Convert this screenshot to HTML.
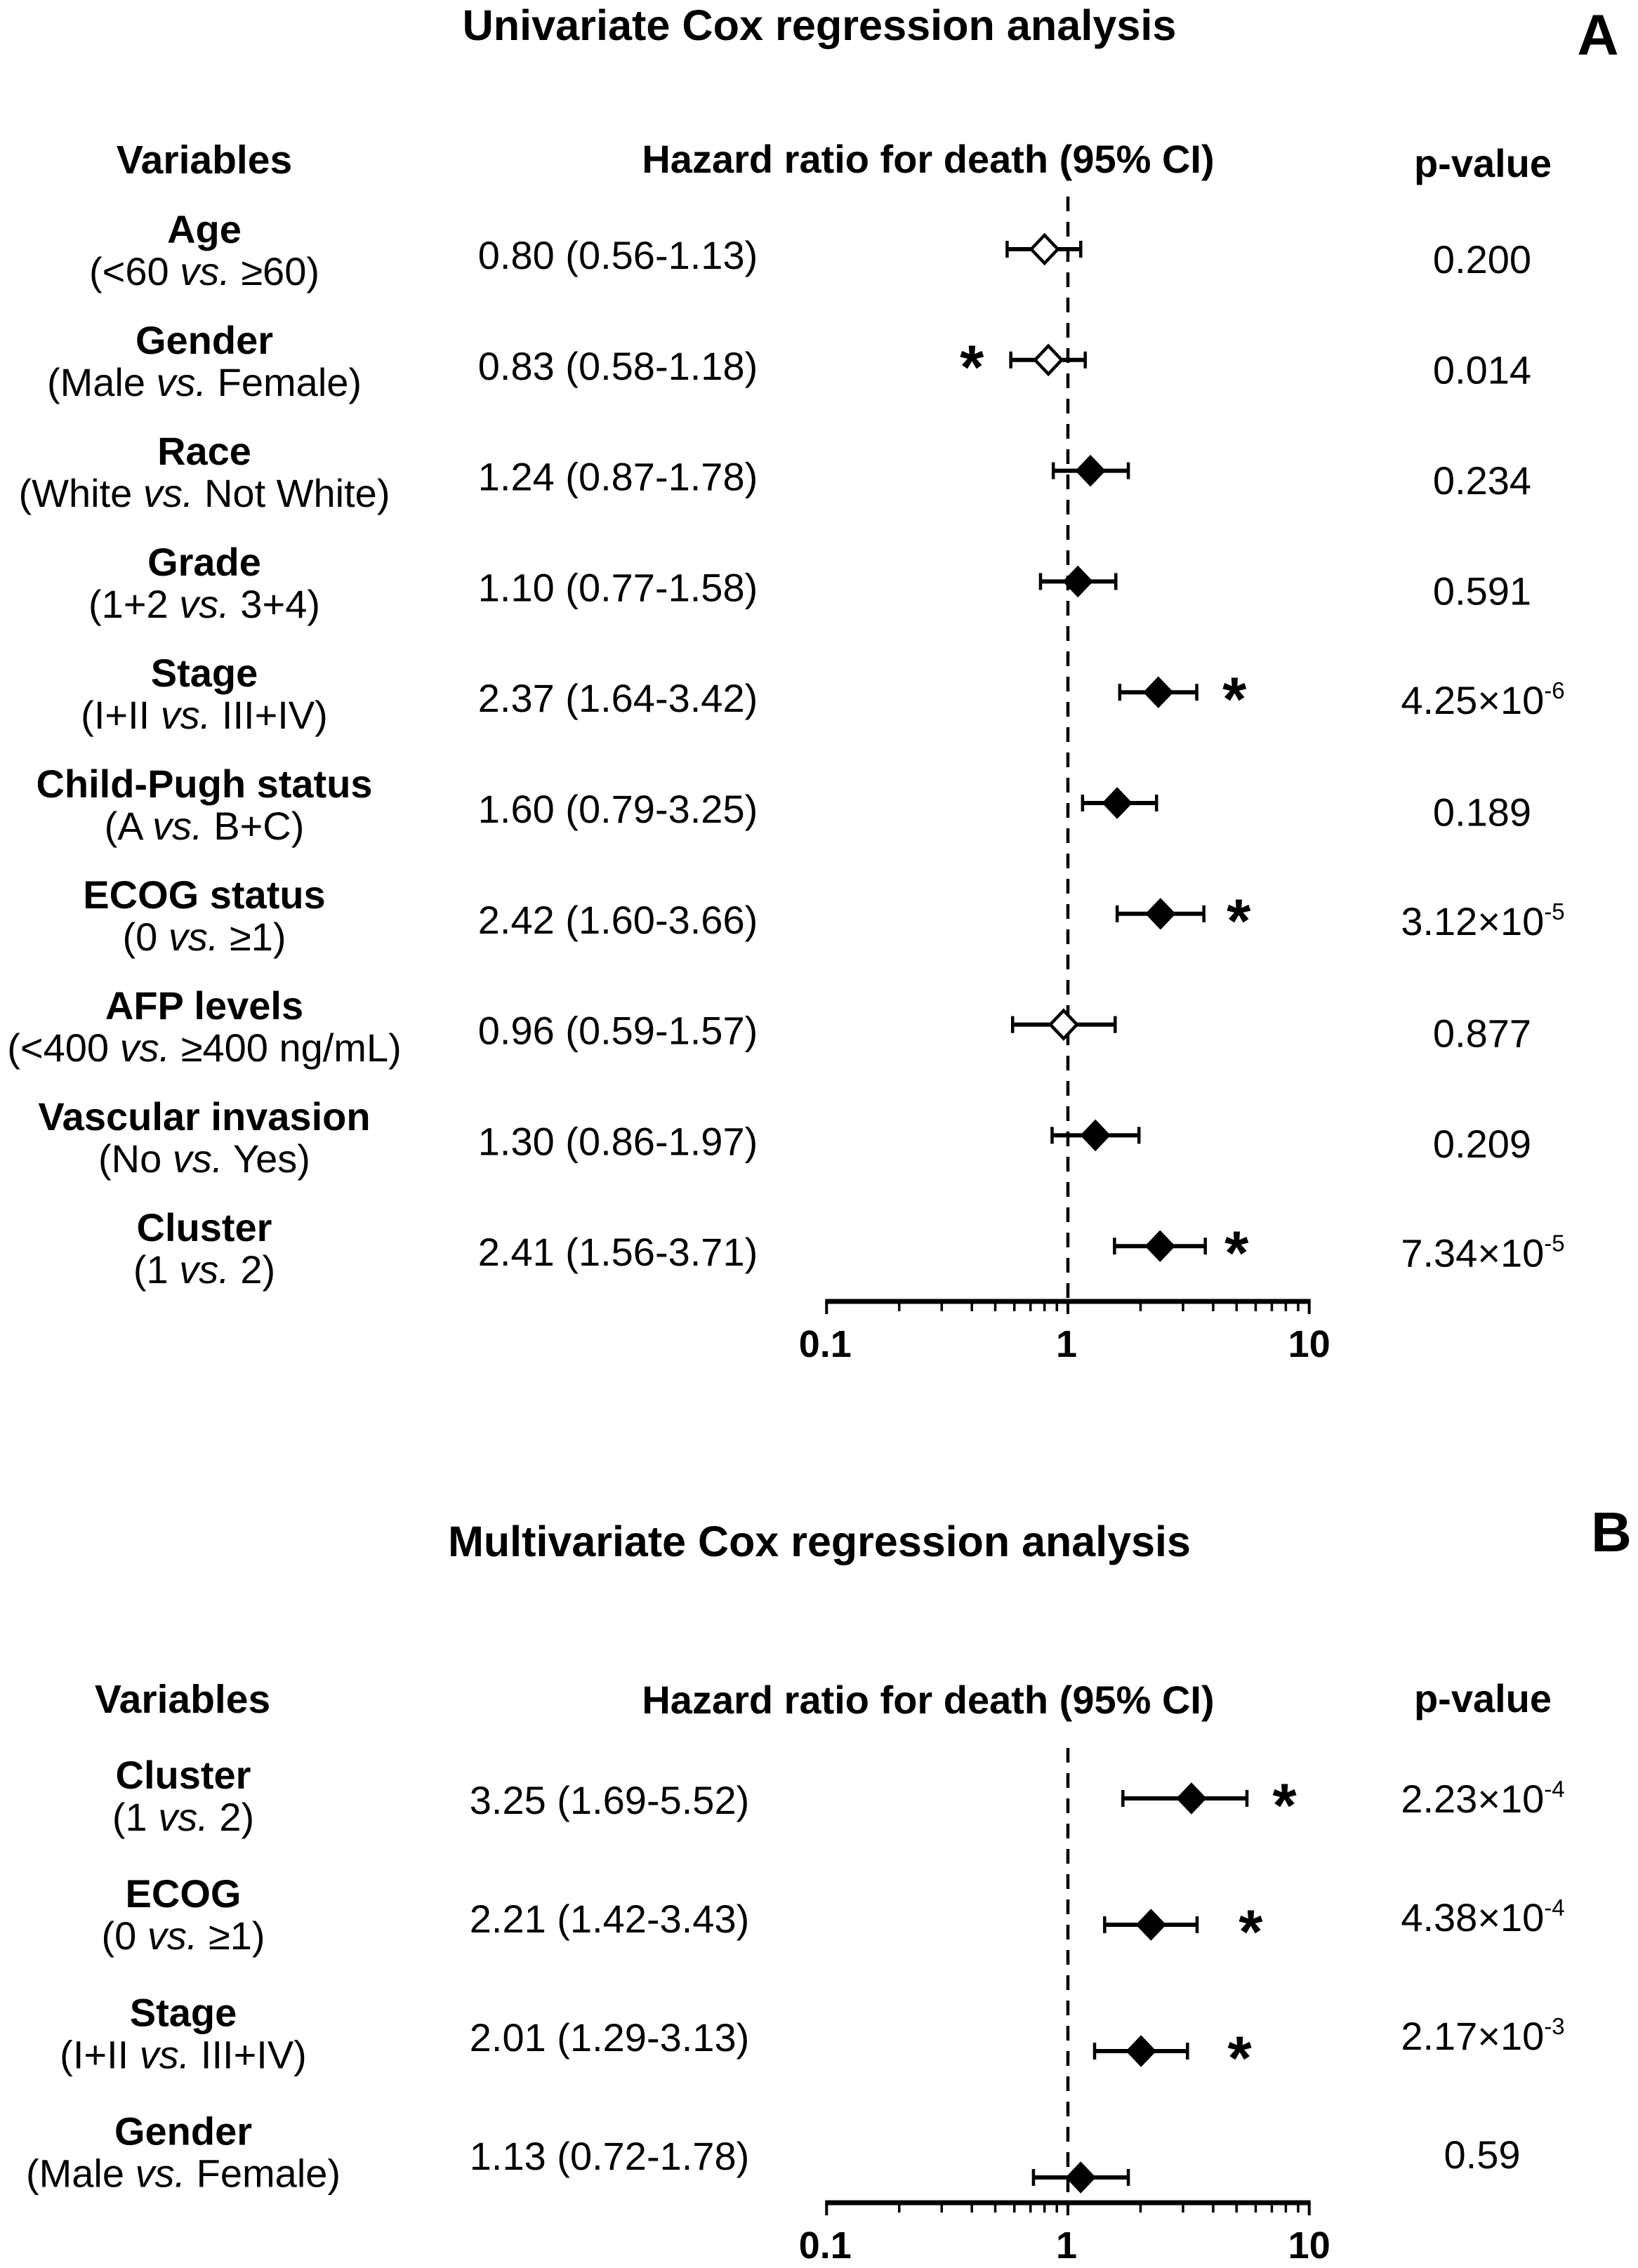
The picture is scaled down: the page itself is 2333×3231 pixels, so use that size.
<!DOCTYPE html>
<html lang="en">
<head>
<meta charset="utf-8">
<title>Cox regression analysis forest plots</title>
<style>
html,body{margin:0;padding:0;background:#fff;}
svg{display:block;}
text{font-family:"Liberation Sans",Arial,sans-serif;fill:#000;}
.bold{font-weight:700;}
</style>
</head>
<body>
<svg id="chart" xmlns="http://www.w3.org/2000/svg" width="2333" height="3231" viewBox="0 0 2333 3231">
  <rect x="0" y="0" width="2333" height="3231" fill="#fff"/>
  <text class="bold" x="1167" y="57" font-size="61.2" text-anchor="middle">Univariate Cox regression analysis</text>
  <text class="bold" x="2276" y="78" font-size="82" text-anchor="middle">A</text>
  <text class="bold" x="291" y="247" font-size="57" text-anchor="middle">Variables</text>
  <text class="bold" x="1322" y="246" font-size="56" text-anchor="middle">Hazard ratio for death (95% CI)</text>
  <text class="bold" x="2112" y="252" font-size="56" text-anchor="middle">p-value</text>
  <text class="bold" x="1167" y="2217" font-size="61" text-anchor="middle">Multivariate Cox regression analysis</text>
  <text class="bold" x="2295" y="2210" font-size="80" text-anchor="middle">B</text>
  <text class="bold" x="260" y="2440" font-size="57" text-anchor="middle">Variables</text>
  <text class="bold" x="1322" y="2441" font-size="56" text-anchor="middle">Hazard ratio for death (95% CI)</text>
  <text class="bold" x="2112" y="2439" font-size="56" text-anchor="middle">p-value</text>
</svg>
<script>
// Panel A data
const aVariables = ["Age","Gender","Race","Grade","Stage","Child-Pugh status","ECOG status","AFP levels","Vascular invasion","Cluster"];
const aContrastLeft = ["<60","Male","White","1+2","I+II","A","0","<400","No","1"];
const aContrastRight = ["≥60","Female","Not White","3+4","III+IV","B+C","≥1","≥400 ng/mL","Yes","2"];
const aHazardRatios = [0.80,0.83,1.24,1.10,2.37,1.60,2.42,0.96,1.30,2.41];
const aLowerCI = [0.56,0.58,0.87,0.77,1.64,1.15,1.60,0.59,0.86,1.56];
const aUpperCI = [1.13,1.18,1.78,1.58,3.42,2.33,3.66,1.57,1.97,3.71];
const aPrintedCI = ["0.80 (0.56-1.13)","0.83 (0.58-1.18)","1.24 (0.87-1.78)","1.10 (0.77-1.58)","2.37 (1.64-3.42)","1.60 (0.79-3.25)","2.42 (1.60-3.66)","0.96 (0.59-1.57)","1.30 (0.86-1.97)","2.41 (1.56-3.71)"];
const aPValues = ["0.200","0.014","0.234","0.591","4.25×10^-6","0.189","3.12×10^-5","0.877","0.209","7.34×10^-5"];
const aFilled = [false,false,true,true,true,true,true,false,true,true];
const aAsteriskAt = [null,0.4,null,null,4.9,null,5.1,null,null,5.0];

// Panel B data
const bVariables = ["Cluster","ECOG","Stage","Gender"];
const bContrastLeft = ["1","0","I+II","Male"];
const bContrastRight = ["2","≥1","III+IV","Female"];
const bHazardRatios = [3.25,2.21,2.01,1.13];
const bLowerCI = [1.69,1.42,1.29,0.72];
const bUpperCI = [5.52,3.43,3.13,1.78];
const bPrintedCI = ["3.25 (1.69-5.52)","2.21 (1.42-3.43)","2.01 (1.29-3.13)","1.13 (0.72-1.78)"];
const bPValues = ["2.23×10^-4","4.38×10^-4","2.17×10^-3","0.59"];
const bFilled = [true,true,true,true];
const bAsteriskAt = [7.9,5.72,5.15,null];

// Shared axis data
const axisMajorTicks = [0.1,1,10];
const axisMinorTicks = [0.2,0.3,0.4,0.5,0.6,0.7,0.8,0.9,2,3,4,5,6,7,8,9];
const axisTickLabels = ["0.1","1","10"];

const NS = "http://www.w3.org/2000/svg";
const svg = document.getElementById("chart");
const X_AT_ONE = 1521;
const PX_PER_DECADE = 343.7;
function xScale(v){ return X_AT_ONE + Math.log10(v) * PX_PER_DECADE; }

function make(tag, attrs, parent){
  const el = document.createElementNS(NS, tag);
  for (const k in attrs) el.setAttribute(k, attrs[k]);
  (parent || svg).appendChild(el);
  return el;
}

function drawPanel(p){
  const prefix = p.prefix;
  const rowY = i => p.markerTop + i * p.markerStep;

  // reference line
  const refLine = make("line",{x1:xScale(1),x2:xScale(1),y1:p.refTop,y2:p.axisY,stroke:"#000","stroke-width":4.5,"stroke-dasharray":"21 15"});
  
  

  // x axis
  const axis = make("line",{x1:xScale(axisMajorTicks[0])-2,x2:xScale(axisMajorTicks[axisMajorTicks.length-1])+2,y1:p.axisY,y2:p.axisY,stroke:"#000","stroke-width":7});
  
  
  axisMajorTicks.forEach((t,i)=>{
    const tick = make("line",{x1:xScale(t),x2:xScale(t),y1:p.axisY,y2:p.axisY+18,stroke:"#000","stroke-width":4});
    
    
    const lab = make("text",{x:xScale(t)-(i===1?2:0)-(i===0?2:0),y:p.axisY+79,"font-size":54,"font-weight":700,"text-anchor":"middle"});
    lab.textContent = axisTickLabels[i];
    
    
  });
  axisMinorTicks.forEach(t=>{
    const tick = make("line",{x1:xScale(t),x2:xScale(t),y1:p.axisY,y2:p.axisY+14,stroke:"#000","stroke-width":3.5});
    
    
  });

  p.variables.forEach((name,i)=>{
    const key = name.toLowerCase().replace(/[^a-z0-9]+/g,'-');

    // variable label
    const nameEl = make("text",{x:p.labelX,y:p.labelTop+i*p.labelStep,"font-size":56,"font-weight":700,"text-anchor":"middle"});
    nameEl.textContent = name;
    
    

    const sub = make("text",{x:p.labelX,y:p.labelTop+i*p.labelStep+60,"font-size":56,"text-anchor":"middle"});
    
    
    make("tspan",{},sub).textContent = "(" + p.left[i] + " ";
    make("tspan",{"font-style":"italic"},sub).textContent = "vs.";
    make("tspan",{},sub).textContent = " " + p.right[i] + ")";

    // printed hazard ratio
    const ci = make("text",{x:p.ciX,y:p.ciTop+i*p.ciStep,"font-size":56,"text-anchor":"middle"});
    ci.textContent = p.printed[i];
    
    

    // p-value
    const parts = p.pvals[i].split("^");
    const sci = parts.length > 1;
    const pv = make("text",{x:sci?2112:2114-3,y:p.pTop+i*p.pStep-(sci?p.sciLift:0),"font-size":56,"text-anchor":"middle"});
    
    
    make("tspan",{},pv).textContent = parts[0];
    if (sci){
      make("tspan",{"font-size":33,dy:-22},pv).textContent = parts[1];
    }

    // error bar
    const y = rowY(i);
    const lo = xScale(p.low[i]), hi = xScale(p.high[i]), c = xScale(p.hr[i]);
    const bar = make("line",{x1:lo,x2:hi,y1:y,y2:y,stroke:"#000","stroke-width":6});
    
    
    [lo,hi].forEach(xp=>{
      const cap = make("line",{x1:xp,x2:xp,y1:y-12,y2:y+12,stroke:"#000","stroke-width":4.5});
      
      
    });

    // diamond marker
    const hw = p.filled[i] ? 21 : 19, hh = p.filled[i] ? 22 : 20;
    const d = make("polygon",{
      points:[[c-hw,y],[c,y-hh],[c+hw,y],[c,y+hh]].map(q=>q.join(",")).join(" "),
      fill:p.filled[i]?"#000":"#fff",stroke:"#000","stroke-width":p.filled[i]?1:4.5
    });
    
    

    // significance asterisk
    if (p.stars[i] !== null){
      const s = make("text",{x:xScale(p.stars[i]),y:y+p.starDrop,"font-size":88,"font-weight":700,"text-anchor":"middle"});
      s.textContent = "*";
      
      
    }
  });
}

drawPanel({
  prefix:"panel-a", variables:aVariables, left:aContrastLeft, right:aContrastRight,
  hr:aHazardRatios, low:aLowerCI, high:aUpperCI, printed:aPrintedCI, pvals:aPValues,
  filled:aFilled, stars:aAsteriskAt,
  markerTop:355, markerStep:157.8, axisY:1854, refTop:280,
  labelX:291, labelTop:346, labelStep:158,
  ciX:880, ciTop:383, ciStep:157.8,
  pTop:389, pStep:157.5, sciLift:2, starDrop:40
});

drawPanel({
  prefix:"panel-b", variables:bVariables, left:bContrastLeft, right:bContrastRight,
  hr:bHazardRatios, low:bLowerCI, high:bUpperCI, printed:bPrintedCI, pvals:bPValues,
  filled:bFilled, stars:bAsteriskAt,
  markerTop:2562, markerStep:180, axisY:3138, refTop:2490,
  labelX:261, labelTop:2548, labelStep:169.2,
  ciX:868, ciTop:2584, ciStep:169,
  pTop:2582, pStep:169, sciLift:0, starDrop:40
});
</script>
</body>
</html>
